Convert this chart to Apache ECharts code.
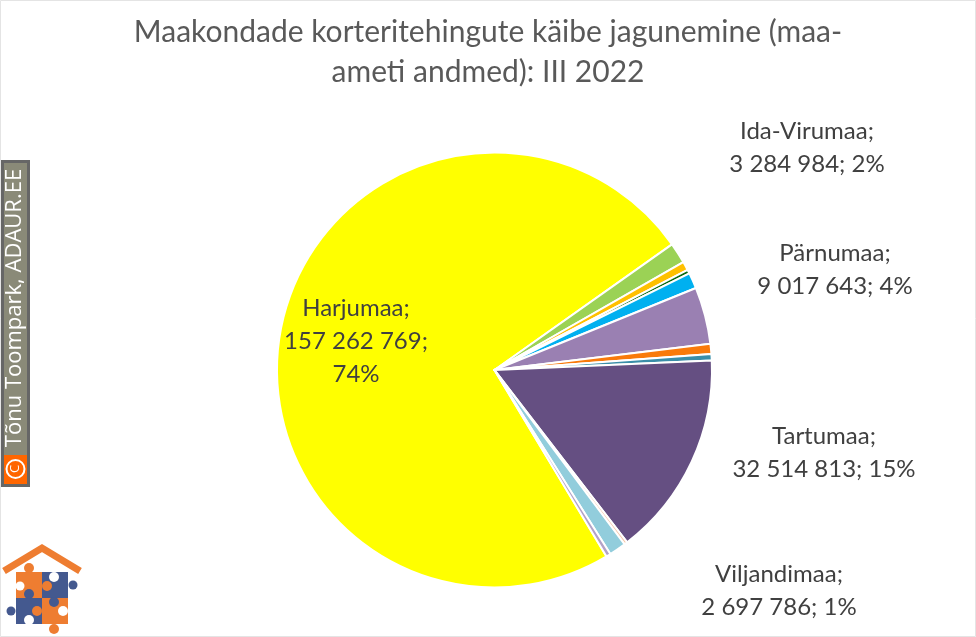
<!DOCTYPE html>
<html><head><meta charset="utf-8">
<style>html,body{margin:0;padding:0;background:#fff}#c{width:976px;height:637px}</style>
<script src="https://cdn.jsdelivr.net/npm/echarts@6/dist/echarts.min.js"></script>
</head><body><div id="c"></div>
<script>
const titleText = 'Maakondade korteritehingute käibe jagunemine (maa-\nameti andmed): III 2022';
const names = ['Harjumaa','Ida-Virumaa','Lääne-Virumaa','Hiiumaa','Raplamaa','Pärnumaa','Läänemaa','Saaremaa','Tartumaa','Valgamaa','Viljandimaa','Võrumaa'];
const values = [157262769,3284984,1400000,600000,2500000,9017643,1600000,1000000,32514813,500000,2697786,700000];
const colors = ['#ffff00','#9bd255','#ffc000','#0b6b12','#00b0f0','#9a80b2','#f97a0a','#3a8ea8','#654f82','#f9c9ac','#92cddc','#b3a2c7'];
const labelled = {0:true,1:true,5:true,8:true,10:true};
const labelSpots = {0:[356,341],1:[807,148],5:[835,270],8:[824,453],10:[779,591]};
const fmt = v => String(v).replace(/\B(?=(\d{3})+(?!\d))/g,' ');
const chart = echarts.init(document.getElementById('c'));
const FONT = 'Lato';
const pieces = [
 ['#ee7d31',16,572,26,26],['#44598f',42,572,26,26],['#44598f',16,598,26,26],['#ee7d31',42,598,26,26]
];
const knobs = [
 ['#ee7d31',29,568,5],['#fff',20,586,4.5],['#44598f',29,594,5],['#ee7d31',47,586,5],['#fff',54,577,5],
 ['#44598f',73,585,4.5],['#44598f',11,611,4.5],['#ee7d31',37,611,5],['#fff',29,620,5],['#44598f',54,602,5],
 ['#fff',63,611,5],['#ee7d31',54,629,5]
];
chart.setOption({
 backgroundColor:'#fff',
 animation:false,
 title:{text:titleText,left:483,top:7,textAlign:'center',
  textStyle:{fontFamily:FONT,fontSize:30,fontWeight:'normal',color:'#595959',lineHeight:40}},
 series:[{
  type:'pie',center:[494.5,370],radius:[0,217.5],startAngle:-59,clockwise:true,
  avoidLabelOverlap:false,
  itemStyle:{borderColor:'#fff',borderWidth:2},
  emphasis:{disabled:true},
  labelLine:{show:false},
  label:{show:true,position:'outside',fontFamily:FONT,fontSize:24,color:'#404040',lineHeight:33,align:'center',
   formatter:p=>{
     const pct=Math.round(p.percent)+'%';
     return p.dataIndex===0?`${p.name};\n${fmt(p.value)};\n${pct}`:`${p.name};\n${fmt(p.value)}; ${pct}`;
   }},
  labelLayout:p=>{
    const s=labelSpots[p.dataIndex];
    return s?{x:s[0],y:s[1],align:'center',verticalAlign:'middle'}:{};
  },
  data:names.map((n,i)=>({name:n,value:values[i],itemStyle:{color:colors[i]},label:{show:!!labelled[i]},labelLine:{show:false}}))
 }],
 graphic:[
  {type:'rect',shape:{x:0.5,y:0.5,width:975,height:636},style:{fill:'none',stroke:'#e4e4e4',lineWidth:1},silent:true},
  {type:'rect',shape:{x:2.5,y:161.5,width:26,height:324},style:{fill:'#8a8a78',stroke:'#666',lineWidth:3}},
  {type:'rect',shape:{x:4,y:455,width:23,height:29},style:{fill:'#ff6600'}},
  {type:'circle',shape:{cx:15.5,cy:469,r:9},style:{fill:'none',stroke:'#fff',lineWidth:2}},
  {type:'text',x:15.5,y:469,rotation:Math.PI/2,style:{text:'C',fill:'#fff',font:'13px "Open Sans"',align:'center',verticalAlign:'middle'}},
  {type:'text',x:15,y:308,rotation:Math.PI/2,style:{text:'Tõnu Toompark, ADAUR.EE',fill:'#fff',font:'22px "Open Sans"',align:'center',verticalAlign:'middle'}},
  {type:'polyline',shape:{points:[[4,571],[42,548],[80,571]]},style:{fill:'none',stroke:'#ee7d31',lineWidth:7}},
  ...pieces.map(p=>({type:'rect',shape:{x:p[1],y:p[2],width:p[3],height:p[4]},style:{fill:p[0]}})),
  ...knobs.map(k=>({type:'circle',shape:{cx:k[1],cy:k[2],r:k[3]},style:{fill:k[0]}}))
 ]
});
</script></body></html>
